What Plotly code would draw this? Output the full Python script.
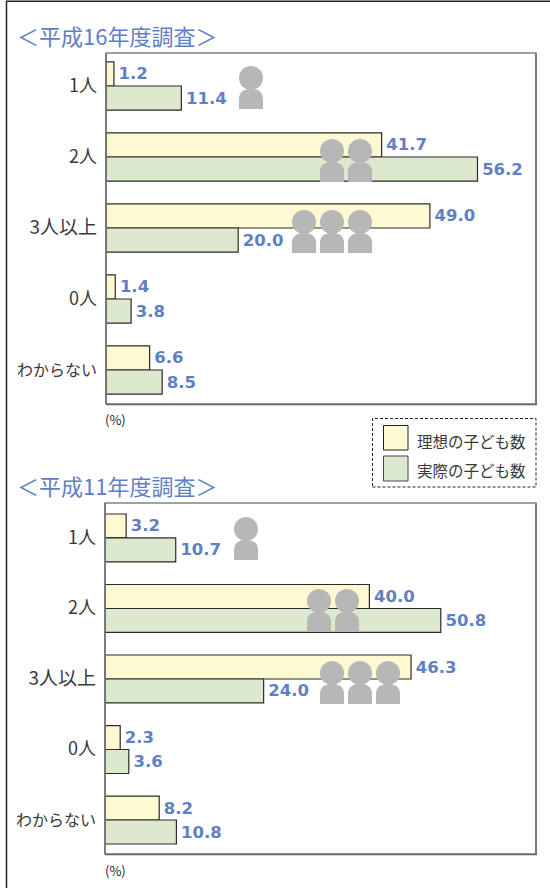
import plotly.graph_objects as go

categories = ["1人", "2人", "3人以上", "0人", "わからない"]
tick_sizes = [18, 18, 19, 18, 16]
ideal_h16 = [1.2, 41.7, 49.0, 1.4, 6.6]
actual_h16 = [11.4, 56.2, 20.0, 3.8, 8.5]
ideal_h11 = [3.2, 40.0, 46.3, 2.3, 8.2]
actual_h11 = [10.7, 50.8, 24.0, 3.6, 10.8]
name_ideal = "理想の子ども数"
name_actual = "実際の子ども数"
title_h16 = "＜平成16年度調査＞"
title_h11 = "＜平成11年度調査＞"

W, H = 550, 888
CJK = "Noto Sans CJK JP"
BLUE = "#5f80c2"
YELLOW = "#fff9d2"
GREEN = "#dde9cf"
GRAY = "#b7b7b7"
INK = "#3a3a3a"

def px(x): return x / W
def py(y): return 1 - y / H

fig = go.Figure()

def panel(ideal, actual, xa, ya):
    for vals, col, name in ((ideal, YELLOW, name_ideal), (actual, GREEN, name_actual)):
        fig.add_trace(go.Bar(
            y=categories, x=vals, orientation="h", name=name, xaxis=xa, yaxis=ya,
            marker=dict(color=col, line=dict(color="#2a2a2a", width=1.2)),
            text=[f"\u200a{v:.1f}" for v in vals], textposition="outside", cliponaxis=False,
            textfont=dict(family="DejaVu Sans", size=16.5, color=BLUE, weight="bold"),
            showlegend=False,
        ))

panel(ideal_h16, actual_h16, "x", "y")
panel(ideal_h11, actual_h11, "x2", "y2")

fig.update_layout(
    width=W, height=H, margin=dict(l=0, r=0, t=0, b=0, pad=0),
    paper_bgcolor="white", plot_bgcolor="white", barmode="group",
    bargap=0.32, bargroupgap=0, showlegend=False,
    font=dict(family=CJK, color=INK),
)
tick_text = [f'<span style="font-size:{s}px">{c}</span>' for c, s in zip(categories, tick_sizes)]
def yaxis(top, bottom, lo, hi, anchor):
    return dict(domain=[py(bottom), py(top)], range=[hi, lo], type="category",
                categoryorder="array", categoryarray=categories, anchor=anchor,
                tickmode="array", tickvals=categories, ticktext=tick_text,
                tickfont=dict(family=CJK, size=16, color=INK),
                ticks="", ticklen=0, showgrid=False, showline=False, zeroline=False,
                ticklabelstandoff=8)
fig.update_layout(
    xaxis=dict(domain=[px(106), px(536)], range=[0, 430 / 6.61], showticklabels=False, ticks="",
               showgrid=False, zeroline=False, showline=False, anchor="y"),
    yaxis=yaxis(53, 404, -0.465, 4.479, "x"),
    xaxis2=dict(domain=[px(105), px(536)], range=[0, 431 / 6.61], showticklabels=False, ticks="",
                showgrid=False, zeroline=False, showline=False, anchor="y2"),
    yaxis2=yaxis(503, 854, -0.496, 4.482, "x2"),
)

shapes = []
def rect(x0, y0, x1, y1, **kw):
    shapes.append(dict(type="rect", xref="paper", yref="paper", x0=px(x0), x1=px(x1),
                       y0=py(y1), y1=py(y0), **kw))
def line(x0, y0, x1, y1, color, width):
    shapes.append(dict(type="line", xref="paper", yref="paper", x0=px(x0), x1=px(x1),
                       y0=py(y0), y1=py(y1), line=dict(color=color, width=width)))

def person(cx, top):
    # head and shoulders pictogram, 24 px wide and 43 px tall
    shapes.append(dict(type="circle", xref="paper", yref="paper", x0=px(cx - 12), x1=px(cx + 12),
                       y0=py(top + 24), y1=py(top), fillcolor=GRAY, line_width=0, layer="above"))
    def p(a, b): return f"{px(cx + a):.5f},{py(top + b):.5f}"
    path = (f"M{p(-12, 43)} L{p(-12, 33)} Q{p(-12, 23)} {p(0, 23)} Q{p(12, 23)} {p(12, 33)} "
            f"L{p(12, 43)} Z")
    shapes.append(dict(type="path", xref="paper", yref="paper", path=path, fillcolor=GRAY,
                       line_width=0, layer="above"))

# outer frame: its right and bottom edges fall outside the page
rect(6.5, 1.2, 556, 896, line=dict(color="#222222", width=1.5))
# plot frames, with a heavier right edge
rect(106, 53, 536, 404, line=dict(color="#444444", width=1.2))
line(536, 53, 536, 405, "#7a7a7a", 2)
line(106, 404.5, 537, 404.5, "#666666", 1.5)
line(106, 53, 106, 404, "#777777", 1.5)
rect(105, 503, 536, 854, line=dict(color="#444444", width=1.2))
line(536, 503, 536, 855, "#7a7a7a", 2)
line(105, 854.5, 537, 854.5, "#666666", 1.5)
line(105, 503, 105, 854, "#777777", 1.5)
# legend box
rect(372.5, 418.5, 536, 487, line=dict(color="#222222", width=1, dash="3px,2px"))
rect(383.5, 425.5, 408, 450, fillcolor=YELLOW, line=dict(color="#222222", width=1))
rect(383.5, 456, 408, 481, fillcolor=GREEN, line=dict(color="#444444", width=1))

for cx, top in [(251, 66), (332, 139), (360, 139), (304, 210), (332, 210), (360, 210),
                (246, 517), (319, 589), (347, 589), (332, 661), (360, 661), (388, 661)]:
    person(cx, top)
fig.update_layout(shapes=shapes)

ann = []
def text(x, y, s, size, color=INK, anchor="left"):
    ann.append(dict(xref="paper", yref="paper", x=px(x), y=py(y), text=s, showarrow=False,
                    xanchor=anchor, yanchor="middle", font=dict(family=CJK, size=size, color=color)))
text(15, 35, title_h16, 22, BLUE)
text(15, 485, title_h11, 22, BLUE)
text(103, 419, "(%)", 13, "#222222")
text(103, 870, "(%)", 13, "#222222")
text(415, 441, name_ideal, 15.5)
text(415, 470, name_actual, 15.5)
fig.update_layout(annotations=ann)

fig.write_html("out.html", config=dict(displayModeBar=False),
               post_script="document.body.style.margin='0';")
